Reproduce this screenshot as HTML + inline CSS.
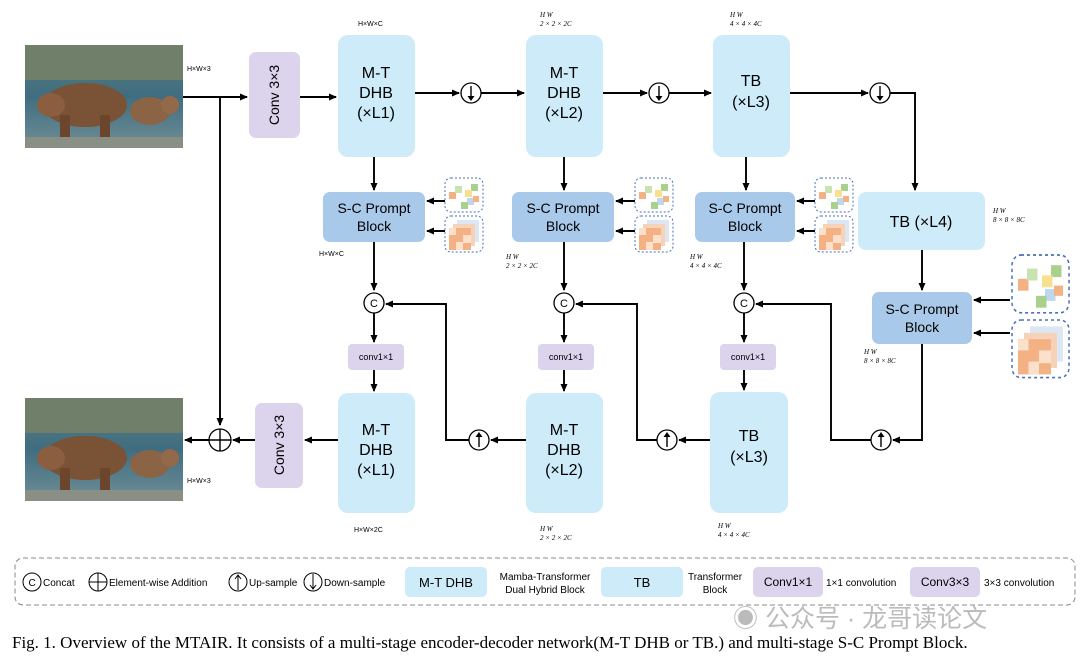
<!DOCTYPE html>
<html><head><meta charset="utf-8"><style>
body{margin:0;background:#fff;width:1080px;height:662px;overflow:hidden}
svg{display:block;font-family:"Liberation Sans",sans-serif}
</style></head><body>
<svg width="1080" height="662" viewBox="0 0 1080 662" xmlns="http://www.w3.org/2000/svg">
<defs>
<marker id="a" markerWidth="8" markerHeight="8" refX="7" refY="4" orient="auto" markerUnits="userSpaceOnUse"><path d="M0,0.5 L8,4 L0,7.5z" fill="#000"/></marker>
<linearGradient id="water" x1="0" y1="0" x2="0" y2="1"><stop offset="0" stop-color="#5c7f7c"/><stop offset="0.5" stop-color="#3f6d80"/><stop offset="1" stop-color="#6f8e96"/></linearGradient>
<g id="bear">
<rect width="158" height="103" fill="url(#water)"/>
<rect y="0" width="158" height="35" fill="#6f7f6a"/>
<ellipse cx="60" cy="60" rx="42" ry="22" fill="#7a5236"/>
<ellipse cx="26" cy="60" rx="14" ry="12" fill="#8a5e3e"/>
<rect x="35" y="70" width="10" height="25" fill="#6b452c"/><rect x="75" y="70" width="10" height="25" fill="#6b452c"/>
<ellipse cx="125" cy="66" rx="20" ry="14" fill="#8b6445"/>
<ellipse cx="145" cy="60" rx="9" ry="9" fill="#93694a"/>
<rect y="92" width="158" height="11" fill="#8a8f86"/>
</g>
<g id="icon1"><rect x="0" y="0" width="38" height="34" rx="6" fill="#fff" stroke="#4a72b8" stroke-dasharray="2,2"/>
<rect x="4" y="14" width="7" height="7" fill="#f4b183"/><rect x="10" y="8" width="7" height="7" fill="#c9e3b0"/><rect x="26" y="6" width="7" height="7" fill="#a9d18e"/><rect x="20" y="12" width="7" height="7" fill="#f8e08e"/><rect x="22" y="20" width="7" height="7" fill="#bdd7ee"/><rect x="16" y="24" width="7" height="7" fill="#a9d18e"/><rect x="28" y="18" width="6" height="6" fill="#f4b183"/></g>
<g id="icon2"><rect x="0" y="0" width="38" height="36" rx="6" fill="#fff" stroke="#4a72b8" stroke-dasharray="2,2"/>
<rect x="12" y="4" width="22" height="22" fill="#dde7f3"/><rect x="8" y="8" width="22" height="22" fill="#f6d2b9"/><rect x="4" y="12" width="22" height="22" fill="#f4b183"/><rect x="4" y="12" width="7" height="7" fill="#fbe0cc"/><rect x="18" y="19" width="8" height="8" fill="#fbe0cc"/><rect x="11" y="26" width="7" height="8" fill="#fbe0cc"/></g>
</defs>

<use href="#bear" x="25" y="45"/>
<use href="#bear" x="25" y="398"/>
<text x="187" y="71" font-size="7">H×W×3</text>
<text x="187" y="483" font-size="7">H×W×3</text>

<g stroke="#000" stroke-width="1.9" fill="none">
<line x1="183" y1="97" x2="247" y2="97" marker-end="url(#a)"/>
<line x1="300" y1="97" x2="336" y2="97" marker-end="url(#a)"/>
<line x1="415" y1="93" x2="459" y2="93" marker-end="url(#a)"/>
<line x1="481" y1="93" x2="524" y2="93" marker-end="url(#a)"/>
<line x1="603" y1="93" x2="647" y2="93" marker-end="url(#a)"/>
<line x1="669" y1="93" x2="711" y2="93" marker-end="url(#a)"/>
<line x1="790" y1="93" x2="868" y2="93" marker-end="url(#a)"/>
<polyline points="890,93 915,93 915,190" marker-end="url(#a)"/>
<line x1="220" y1="97" x2="220" y2="425" marker-end="url(#a)"/>
<line x1="374" y1="157" x2="374" y2="190" marker-end="url(#a)"/>
<line x1="564" y1="157" x2="564" y2="190" marker-end="url(#a)"/>
<line x1="746" y1="157" x2="746" y2="190" marker-end="url(#a)"/>
<line x1="922" y1="250" x2="922" y2="290" marker-end="url(#a)"/>
<line x1="374" y1="242" x2="374" y2="290" marker-end="url(#a)"/>
<line x1="564" y1="242" x2="564" y2="290" marker-end="url(#a)"/>
<line x1="744" y1="242" x2="744" y2="290" marker-end="url(#a)"/>
<line x1="374" y1="313" x2="374" y2="342" marker-end="url(#a)"/>
<line x1="564" y1="313" x2="564" y2="342" marker-end="url(#a)"/>
<line x1="744" y1="313" x2="744" y2="342" marker-end="url(#a)"/>
<line x1="374" y1="370" x2="374" y2="391" marker-end="url(#a)"/>
<line x1="564" y1="370" x2="564" y2="391" marker-end="url(#a)"/>
<line x1="744" y1="370" x2="744" y2="390" marker-end="url(#a)"/>
<line x1="445" y1="201" x2="427" y2="201" marker-end="url(#a)"/>
<line x1="445" y1="231" x2="427" y2="231" marker-end="url(#a)"/>
<line x1="635" y1="201" x2="616" y2="201" marker-end="url(#a)"/>
<line x1="635" y1="231" x2="616" y2="231" marker-end="url(#a)"/>
<line x1="815" y1="201" x2="797" y2="201" marker-end="url(#a)"/>
<line x1="815" y1="231" x2="797" y2="231" marker-end="url(#a)"/>
<line x1="1010" y1="300" x2="974" y2="300" marker-end="url(#a)"/>
<line x1="1010" y1="333" x2="974" y2="333" marker-end="url(#a)"/>
<polyline points="922,344 922,440 893,440" marker-end="url(#a)"/>
<polyline points="871,440 831,440 831,304 756,304" marker-end="url(#a)"/>
<line x1="710" y1="440" x2="679" y2="440" marker-end="url(#a)"/>
<polyline points="657,440 637,440 637,304 576,304" marker-end="url(#a)"/>
<line x1="526" y1="440" x2="491" y2="440" marker-end="url(#a)"/>
<polyline points="469,440 446,440 446,304 386,304" marker-end="url(#a)"/>
<line x1="338" y1="440" x2="305" y2="440" marker-end="url(#a)"/>
<line x1="255" y1="440" x2="233" y2="440" marker-end="url(#a)"/>
<line x1="209" y1="440" x2="185" y2="440" marker-end="url(#a)"/>
</g>

<g font-size="16" text-anchor="middle">
<rect x="249" y="52" width="51" height="86" rx="7" fill="#dcd3ec"/>
<text transform="translate(279,95) rotate(-90)" font-size="14" text-anchor="middle">Conv 3×3</text>
<rect x="255" y="403" width="48" height="85" rx="7" fill="#dcd3ec"/>
<text transform="translate(284,445) rotate(-90)" font-size="14" text-anchor="middle">Conv 3×3</text>

<rect x="338" y="35" width="77" height="122" rx="10" fill="#cdebf9"/>
<text x="376" y="78">M-T</text><text x="376" y="98">DHB</text><text x="376" y="118">(×L1)</text>
<rect x="526" y="35" width="77" height="122" rx="10" fill="#cdebf9"/>
<text x="564" y="78">M-T</text><text x="564" y="98">DHB</text><text x="564" y="118">(×L2)</text>
<rect x="713" y="35" width="77" height="122" rx="10" fill="#cdebf9"/>
<text x="751" y="86">TB</text><text x="751" y="107">(×L3)</text>
<rect x="858" y="192" width="127" height="58" rx="8" fill="#cdebf9"/>
<text x="921" y="227">TB (×L4)</text>

<rect x="338" y="393" width="77" height="120" rx="10" fill="#cdebf9"/>
<text x="376" y="435">M-T</text><text x="376" y="455">DHB</text><text x="376" y="475">(×L1)</text>
<rect x="526" y="393" width="77" height="120" rx="10" fill="#cdebf9"/>
<text x="564" y="435">M-T</text><text x="564" y="455">DHB</text><text x="564" y="475">(×L2)</text>
<rect x="710" y="392" width="78" height="121" rx="10" fill="#cdebf9"/>
<text x="749" y="441">TB</text><text x="749" y="462">(×L3)</text>

<g font-size="14">
<rect x="323" y="192" width="102" height="50" rx="7" fill="#a9c9ea"/>
<text x="374" y="213">S-C Prompt</text><text x="374" y="231">Block</text>
<rect x="512" y="192" width="102" height="50" rx="7" fill="#a9c9ea"/>
<text x="563" y="213">S-C Prompt</text><text x="563" y="231">Block</text>
<rect x="695" y="192" width="100" height="50" rx="7" fill="#a9c9ea"/>
<text x="745" y="213">S-C Prompt</text><text x="745" y="231">Block</text>
<rect x="872" y="292" width="100" height="52" rx="7" fill="#a9c9ea"/>
<text x="922" y="314">S-C Prompt</text><text x="922" y="332">Block</text>
</g>
<g font-size="9">
<rect x="348" y="344" width="56" height="26" rx="4" fill="#dcd3ec"/><text x="376" y="360">conv1×1</text>
<rect x="538" y="344" width="56" height="26" rx="4" fill="#dcd3ec"/><text x="566" y="360">conv1×1</text>
<rect x="720" y="344" width="56" height="26" rx="4" fill="#dcd3ec"/><text x="748" y="360">conv1×1</text>
</g>
</g>

<use href="#icon1" x="445" y="178"/><use href="#icon2" x="445" y="216"/>
<use href="#icon1" x="635" y="178"/><use href="#icon2" x="635" y="216"/>
<use href="#icon1" x="815" y="178"/><use href="#icon2" x="815" y="216"/>
<g transform="translate(1012,255) scale(1.5,1.7)"><use href="#icon1"/></g>
<g transform="translate(1012,320) scale(1.5,1.6)"><use href="#icon2"/></g>

<g fill="#fff" stroke="#000" stroke-width="1.3">
<circle cx="471" cy="93" r="10"/><circle cx="659" cy="93" r="10"/><circle cx="880" cy="93" r="10"/>
<circle cx="479" cy="440" r="10"/><circle cx="667" cy="440" r="10"/><circle cx="881" cy="440" r="10"/>
<circle cx="374" cy="303" r="10"/><circle cx="564" cy="303" r="10"/><circle cx="744" cy="303" r="10"/>
<circle cx="220" cy="440" r="11"/>
</g>
<g stroke="#000" stroke-width="1.4" fill="none">
<path d="M471,86v12M659,86v12M880,86v12"/>
<path d="M479,447v-12M667,447v-12M881,447v-12"/>
<path d="M209,440h22M220,429v22"/>
</g>
<g fill="#000">
<path d="M467.5,96l3.5,5l3.5,-5zM655.5,96l3.5,5l3.5,-5zM876.5,96l3.5,5l3.5,-5z"/>
<path d="M475.5,437l3.5,-5l3.5,5zM663.5,437l3.5,-5l3.5,5zM877.5,437l3.5,-5l3.5,5z"/>
</g>
<g font-size="11" text-anchor="middle"><text x="374" y="307">C</text><text x="564" y="307">C</text><text x="744" y="307">C</text></g>

<g font-size="7" font-family="Liberation Serif,serif" font-style="italic">
<text x="358" y="26" font-style="normal" font-family="Liberation Sans">H×W×C</text>
<text x="319" y="256" font-style="normal" font-family="Liberation Sans">H×W×C</text>
<text x="354" y="532" font-style="normal" font-family="Liberation Sans">H×W×2C</text>
<text x="540" y="17">H   W</text><text x="540" y="26">2 × 2 × 2C</text>
<text x="730" y="17">H   W</text><text x="730" y="26">4 × 4 × 4C</text>
<text x="993" y="213">H   W</text><text x="993" y="222">8 × 8 × 8C</text>
<text x="506" y="259">H   W</text><text x="506" y="268">2 × 2 × 2C</text>
<text x="690" y="259">H   W</text><text x="690" y="268">4 × 4 × 4C</text>
<text x="864" y="354">H   W</text><text x="864" y="363">8 × 8 × 8C</text>
<text x="540" y="531">H   W</text><text x="540" y="540">2 × 2 × 2C</text>
<text x="718" y="528">H   W</text><text x="718" y="537">4 × 4 × 4C</text>
</g>

<rect x="15" y="558" width="1060" height="47" rx="8" fill="none" stroke="#888" stroke-dasharray="5,3"/>
<g font-size="10">
<circle cx="32" cy="582" r="9" fill="none" stroke="#000"/><text x="28.5" y="586">C</text><text x="43" y="586">Concat</text>
<circle cx="98" cy="582" r="9" fill="none" stroke="#000"/><path d="M89,582h18M98,573v18" stroke="#000"/><text x="109" y="586">Element-wise Addition</text>
<circle cx="238" cy="582" r="9" fill="none" stroke="#000"/><path d="M238,590v-14M235,579l3,-4l3,4" stroke="#000" fill="none"/><text x="249" y="586">Up-sample</text>
<circle cx="313" cy="582" r="9" fill="none" stroke="#000"/><path d="M313,574v14M310,585l3,4l3,-4" stroke="#000" fill="none"/><text x="324" y="586">Down-sample</text>
<rect x="405" y="567" width="82" height="30" rx="5" fill="#cdebf9"/><text x="446" y="587" font-size="13" text-anchor="middle">M-T DHB</text>
<text x="545" y="580" text-anchor="middle">Mamba-Transformer</text><text x="545" y="593" text-anchor="middle">Dual Hybrid Block</text>
<rect x="601" y="567" width="82" height="30" rx="5" fill="#cdebf9"/><text x="642" y="587" font-size="13" text-anchor="middle">TB</text>
<text x="715" y="580" text-anchor="middle">Transformer</text><text x="715" y="593" text-anchor="middle">Block</text>
<rect x="753" y="567" width="70" height="30" rx="5" fill="#dcd3ec"/><text x="788" y="586" font-size="12" text-anchor="middle">Conv1×1</text>
<text x="826" y="586">1×1 convolution</text>
<rect x="910" y="567" width="70" height="30" rx="5" fill="#dcd3ec"/><text x="945" y="586" font-size="12" text-anchor="middle">Conv3×3</text>
<text x="984" y="586">3×3 convolution</text>
</g>
<text x="733" y="627" font-size="25" fill="#bbb" font-family="Liberation Sans,Noto Sans CJK SC,sans-serif">◉ 公众号 · 龙哥读论文</text>
<text x="12" y="648" font-size="17" font-family="Liberation Serif,serif">Fig. 1.  Overview of the MTAIR. It consists of a multi-stage encoder-decoder network(M-T DHB or TB.) and multi-stage S-C Prompt Block.</text>
</svg>
</body></html>
